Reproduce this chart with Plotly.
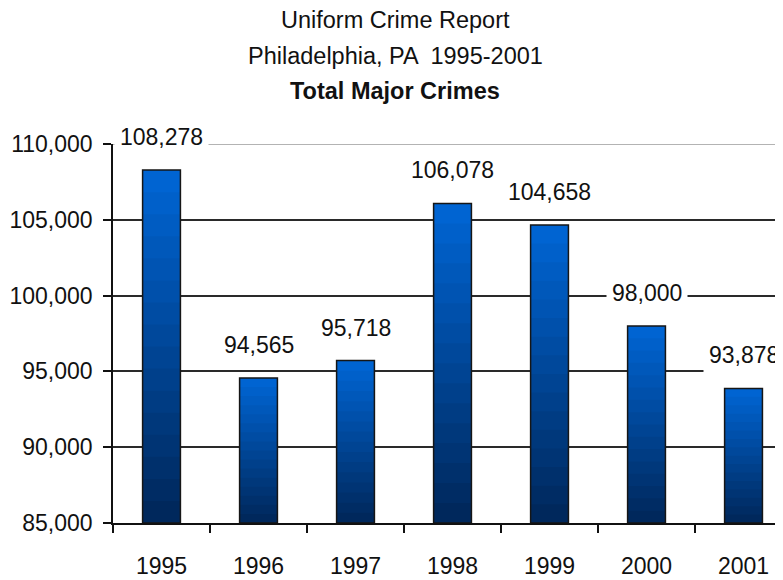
import plotly.graph_objects as go

years = ["1995", "1996", "1997", "1998", "1999", "2000", "2001"]
crimes = [108278, 94565, 95718, 106078, 104658, 98000, 93878]
y_ticks = [85000, 90000, 95000, 100000, 105000, 110000]
title_lines = ["Uniform Crime Report", "Philadelphia, PA  1995-2001", "<b>Total Major Crimes</b>"]

BASE = 85000
N_BANDS = 16
dark = (0, 40, 92)
bright = (0, 100, 210)
FONT = "Liberation Sans, Arial, sans-serif"
idx = list(range(len(years)))

fig = go.Figure()
for k in range(N_BANDS):
    t = k / (N_BANDS - 1)
    col = "rgb({},{},{})".format(*[round(d + (b - d) * t) for d, b in zip(dark, bright)])
    lows = [BASE + (v - BASE) * k / N_BANDS for v in crimes]
    fig.add_trace(go.Bar(
        x=idx,
        y=[v - lo for v, lo in zip(crimes, lows)],
        base=lows,
        marker=dict(color=col, line=dict(width=0)),
        width=0.39, showlegend=False, hoverinfo="skip",
    ))
fig.add_trace(go.Bar(
    x=idx, y=[v - BASE for v in crimes], base=[BASE] * len(crimes),
    marker=dict(color="rgba(0,0,0,0)", line=dict(color="#161616", width=1.5)),
    width=0.39, showlegend=False,
))

for i, v in zip(idx, crimes):
    fig.add_annotation(
        x=i, y=v, xref="x", yref="y", text=f"{v:,}", showarrow=False,
        yanchor="middle", yshift=33,
        bgcolor="white", borderpad=5, font=dict(family=FONT, size=23, color="#111"),
    )

title_y = [20, 56, 91]
for txt, py in zip(title_lines, title_y):
    fig.add_annotation(
        xref="paper", yref="paper", x=(395 - 113) / 670, y=1 + (144 - py) / 379,
        text=txt, showarrow=False, xanchor="center", yanchor="middle",
        font=dict(family=FONT, size=23.5, color="#111"),
    )

fig.add_shape(type="line", xref="paper", yref="y", x0=0, x1=1, y0=110000, y1=110000,
              line=dict(color="#9a9a9a", width=1.5), layer="between")

fig.update_layout(
    width=775, height=572,
    margin=dict(l=105, r=0, t=136, b=57, autoexpand=False),
    paper_bgcolor="white", plot_bgcolor="white",
    barmode="overlay",
    font=dict(family=FONT, size=23, color="#111"),
    xaxis=dict(
        range=[-0.5, 6.407], tickvals=idx, ticktext=years,
        ticks="", showline=True, linecolor="#111", linewidth=1.5, showgrid=False,
        zeroline=False, ticklabelstandoff=22, tickfont=dict(size=23),
        minor=dict(tickvals=[i + 0.5 for i in [-1] + idx], ticks="outside",
                   ticklen=8, tickcolor="#111", tickwidth=1.5, showgrid=False),
    ),
    yaxis=dict(
        range=[85000, 110000], tickvals=y_ticks, tickformat=",d",
        ticks="outside", ticklen=8, tickcolor="#111", tickwidth=1.5,
        showline=True, linecolor="#111", linewidth=1.5,
        showgrid=True, gridcolor="#2a2a2a", gridwidth=1.5, zeroline=False,
        ticklabelstandoff=6, tickfont=dict(size=23),
    ),
)

fig.write_html("out.html")
